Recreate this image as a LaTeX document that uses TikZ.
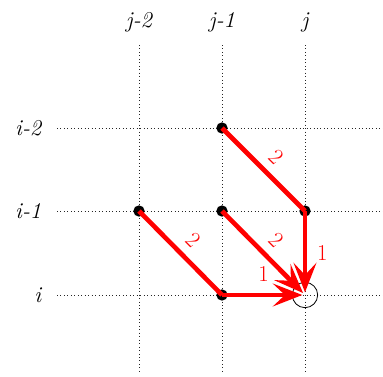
\documentclass[tikz,border=0pt]{standalone}
\usetikzlibrary{arrows.meta}
\begin{document}
\begin{tikzpicture}[x=0.75pt,y=-0.75pt,
  grid/.style={dotted, line width=0.6pt, black!85},
  dot/.style={circle, fill=black, inner sep=0pt, minimum size=8.5pt},
  edge/.style={red, line width=3.5pt},
  arr/.style={edge, -{Stealth[length=22pt,width=17pt,inset=9pt]}, shorten >=2pt},
  lab/.style={font=\fontsize{17}{19}\selectfont\itshape},
  num/.style={red, font=\fontsize{17}{19}\selectfont}]
\useasboundingbox (0,0) rectangle (383,376);
% grid lines
\foreach \x/\n in {139/a,222/b,305/c}{
  \coordinate (t\n) at (\x,45);
  \coordinate (b\n) at (\x,372);
  \draw[grid] (t\n) -- (b\n);
}
\foreach \y/\n in {128/a,211/b,295/c}{
  \coordinate (l\n) at (57,\y);
  \coordinate (r\n) at (383,\y);
  \draw[grid] (l\n) -- (r\n);
}
% labels
\node[lab] (cj2) at (139,22) {j-2};
\node[lab] (cj1) at (222,22) {j-1};
\node[lab] (cj) at (305,22) {j};
\node[lab, anchor=east] (ri2) at (46,128) {i-2};
\node[lab, anchor=east] (ri1) at (46,211) {i-1};
\node[lab, anchor=east] (ri) at (46,295) {i};
% points
\node[dot] (p1) at (222,128) {};
\node[dot] (p2) at (139,211) {};
\node[dot] (p3) at (222,211) {};
\node[dot] (p4) at (305,211) {};
\node[dot] (p5) at (222,295) {};
\node[circle, draw, line width=0.6pt, minimum size=19pt, inner sep=0pt] (c) at (305,295) {};
% edges
\draw[edge] (p1.center) -- node[num, sloped, above=3pt] {2} (p4.center);
\draw[edge] (p2.center) -- node[num, sloped, above=3pt] {2} (p5.center);
\draw[arr] (p4.center) -- node[num, right=4pt] {1} (c.center);
\draw[arr] (p3.center) -- node[num, sloped, above=3pt] {2} (c.center);
\draw[arr] (p5.center) -- node[num, above=5pt] {1} (c.center);
\end{tikzpicture}
\end{document}
